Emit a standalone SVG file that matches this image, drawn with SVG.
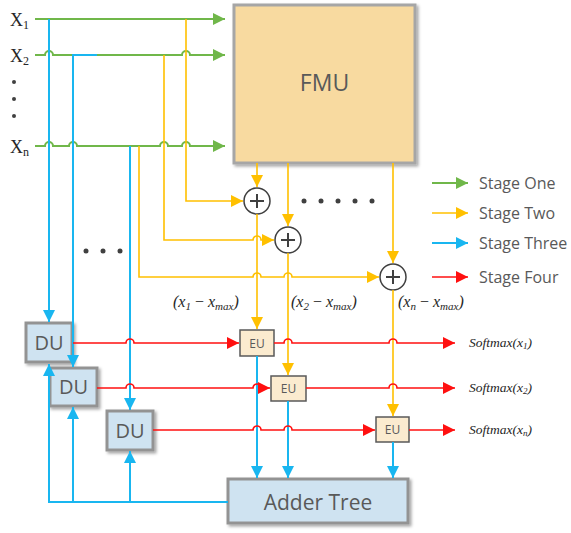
<svg xmlns="http://www.w3.org/2000/svg" width="571" height="533" viewBox="0 0 571 533">
<style>
.g{stroke:#70B74A;stroke-width:2;fill:none}
.y{stroke:#FFC000;stroke-width:1.6;fill:none}
.b{stroke:#19B6F0;stroke-width:2;fill:none}
.r{stroke:#FF1010;stroke-width:1.6;fill:none}
.lbl{font-family:"Open Sans","Noto Sans",sans-serif;fill:#595959}
.math{font-family:"Liberation Serif",serif;font-style:italic;fill:#262626}
.xl{font-family:"Liberation Serif",serif;fill:#262626}
.big{fill:#F8DAA0;stroke:#A6A6A6;stroke-width:3}
.du{fill:#CFE3F1;stroke:#939393;stroke-width:3}
.eu{fill:#FBEBCF;stroke:#595959;stroke-width:1.5}
.add{fill:#fff;stroke:#404040;stroke-width:1.5}
.plus{stroke:#404040;stroke-width:2}
.dot{fill:#404040}
</style>
<defs>
<filter id="sh" x="-10%" y="-10%" width="130%" height="130%">
<feDropShadow dx="2" dy="2" stdDeviation="1.5" flood-color="#000" flood-opacity="0.35"/>
</filter>
<marker id="ag" markerUnits="userSpaceOnUse" markerWidth="12" markerHeight="12" refX="12" refY="6" orient="auto"><path d="M0,0 L12,6 L0,12 z" fill="#70B74A"/></marker>
<marker id="ay" markerUnits="userSpaceOnUse" markerWidth="12" markerHeight="12" refX="12" refY="6" orient="auto"><path d="M0,0 L12,6 L0,12 z" fill="#FFC000"/></marker>
<marker id="ab" markerUnits="userSpaceOnUse" markerWidth="12" markerHeight="12" refX="12" refY="6" orient="auto"><path d="M0,0 L12,6 L0,12 z" fill="#19B6F0"/></marker>
<marker id="ar" markerUnits="userSpaceOnUse" markerWidth="12" markerHeight="12" refX="12" refY="6" orient="auto"><path d="M0,0 L12,6 L0,12 z" fill="#FF1010"/></marker>
</defs>

<g id="inputs">
<text class="xl" x="10" y="26" font-size="18">X<tspan font-size="12" dy="3">1</tspan></text>
<text class="xl" x="10" y="62" font-size="18">X<tspan font-size="12" dy="3">2</tspan></text>
<text class="xl" x="10" y="153" font-size="18">X<tspan font-size="12" dy="3">n</tspan></text>
<circle class="dot" cx="14" cy="82" r="2"/>
<circle class="dot" cx="14" cy="99" r="2"/>
<circle class="dot" cx="14" cy="116" r="2"/>
</g>

<g id="fmu">
<rect class="big" x="234" y="5" width="181" height="158" filter="url(#sh)"/>
<text class="lbl" x="324.5" y="91" font-size="23" text-anchor="middle">FMU</text>
</g>

<g id="adder1"><circle class="add" cx="257" cy="201" r="13"/><path class="plus" d="M250,201 H264 M257,194 V208"/></g>
<g id="adder2"><circle class="add" cx="288" cy="240" r="13"/><path class="plus" d="M281,240 H295 M288,233 V247"/></g>
<g id="adder3"><circle class="add" cx="393" cy="277" r="13"/><path class="plus" d="M386,277 H400 M393,270 V284"/></g>

<g id="du1"><rect class="du" x="26" y="323" width="46" height="39" filter="url(#sh)"/><text class="lbl" x="49" y="350" font-size="20" text-anchor="middle">DU</text></g>
<g id="du2"><rect class="du" x="50" y="368" width="47" height="38" filter="url(#sh)"/><text class="lbl" x="73.5" y="394" font-size="20" text-anchor="middle">DU</text></g>
<g id="du3"><rect class="du" x="107" y="411" width="46" height="39" filter="url(#sh)"/><text class="lbl" x="130" y="438" font-size="20" text-anchor="middle">DU</text></g>

<g id="eu1"><rect class="eu" x="240" y="330" width="34" height="26"/><text class="lbl" x="257" y="348" font-size="12" text-anchor="middle">EU</text></g>
<g id="eu2"><rect class="eu" x="271" y="376" width="35" height="25"/><text class="lbl" x="288.5" y="393" font-size="12" text-anchor="middle">EU</text></g>
<g id="eu3"><rect class="eu" x="376" y="417" width="33" height="25"/><text class="lbl" x="392.5" y="434" font-size="12" text-anchor="middle">EU</text></g>

<g id="adder-tree"><rect class="du" x="228" y="479" width="180" height="44" filter="url(#sh)"/><text class="lbl" x="318" y="510" font-size="21" text-anchor="middle">Adder Tree</text></g>

<g id="connectors">
<path class="g" d="M35,19 H225" marker-end="url(#ag)"/>
<path class="g" d="M35,55 H45 a4,4 0 0 1 8,0 H182 a4,4 0 0 1 8,0 H225" marker-end="url(#ag)"/>
<path class="g" d="M35,146 H45 a4,4 0 0 1 8,0 H69 a4,4 0 0 1 8,0 H160 a4,4 0 0 1 8,0 H182 a4,4 0 0 1 8,0 H225" marker-end="url(#ag)"/>
<path class="y" d="M186,19 V201 H243" marker-end="url(#ay)"/>
<path class="y" d="M164,55 V240 H253 a4,4 0 0 1 8,0 H274" marker-end="url(#ay)"/>
<path class="y" d="M139,146 V277 H253 a4,4 0 0 1 8,0 H284 a4,4 0 0 1 8,0 H379" marker-end="url(#ay)"/>
<path class="y" d="M257,163 V187" marker-end="url(#ay)"/>
<path class="y" d="M288,163 V226" marker-end="url(#ay)"/>
<path class="y" d="M393,163 V263" marker-end="url(#ay)"/>
<path class="y" d="M257,214 V329" marker-end="url(#ay)"/>
<path class="y" d="M288,253 V375" marker-end="url(#ay)"/>
<path class="y" d="M393,290 V416" marker-end="url(#ay)"/>
<path class="b" d="M49,19 V322" marker-end="url(#ab)"/>
<path class="b" d="M97,55 H73 V367" marker-end="url(#ab)"/>
<path class="b" d="M130,146 V410" marker-end="url(#ab)"/>
<path class="b" d="M228,502 H49 V364" marker-end="url(#ab)"/>
<path class="b" d="M73,502 V407" marker-end="url(#ab)"/>
<path class="b" d="M130,502 V451" marker-end="url(#ab)"/>
<path class="b" d="M257,356 V478" marker-end="url(#ab)"/>
<path class="b" d="M288,401 V478" marker-end="url(#ab)"/>
<path class="b" d="M393,442 V478" marker-end="url(#ab)"/>
<path class="r" d="M73,343 H126 a4,4 0 0 1 8,0 H239" marker-end="url(#ar)"/>
<path class="r" d="M274,343 H284 a4,4 0 0 1 8,0 H389 a4,4 0 0 1 8,0 H455" marker-end="url(#ar)"/>
<path class="r" d="M97,388 H126 a4,4 0 0 1 8,0 H253 a4,4 0 0 1 8,0 H270" marker-end="url(#ar)"/>
<path class="r" d="M306,388 H389 a4,4 0 0 1 8,0 H455" marker-end="url(#ar)"/>
<path class="r" d="M153,430 H253 a4,4 0 0 1 8,0 H284 a4,4 0 0 1 8,0 H375" marker-end="url(#ar)"/>
<path class="r" d="M409,430 H455" marker-end="url(#ar)"/>
</g>

<g id="labels">
<circle class="dot" cx="304" cy="201" r="2.5"/>
<circle class="dot" cx="321" cy="201" r="2.5"/>
<circle class="dot" cx="338" cy="201" r="2.5"/>
<circle class="dot" cx="355" cy="201" r="2.5"/>
<circle class="dot" cx="372" cy="201" r="2.5"/>
<circle class="dot" cx="86" cy="251" r="2.5"/>
<circle class="dot" cx="103" cy="251" r="2.5"/>
<circle class="dot" cx="120" cy="251" r="2.5"/>
<text class="math" x="173" y="307" font-size="16">(x<tspan font-size="11" dy="3">1</tspan><tspan dy="-3" font-style="normal"> − </tspan>x<tspan font-size="11" dy="3">max</tspan><tspan dy="-3">)</tspan></text>
<text class="math" x="291" y="307" font-size="16">(x<tspan font-size="11" dy="3">2</tspan><tspan dy="-3" font-style="normal"> − </tspan>x<tspan font-size="11" dy="3">max</tspan><tspan dy="-3">)</tspan></text>
<text class="math" x="398" y="307" font-size="16">(x<tspan font-size="11" dy="3">n</tspan><tspan dy="-3" font-style="normal"> − </tspan>x<tspan font-size="11" dy="3">max</tspan><tspan dy="-3">)</tspan></text>
<text class="math" x="469" y="347" font-size="13.5">Softmax(x<tspan font-size="9" dy="2">1</tspan><tspan dy="-2">)</tspan></text>
<text class="math" x="469" y="392" font-size="13.5">Softmax(x<tspan font-size="9" dy="2">2</tspan><tspan dy="-2">)</tspan></text>
<text class="math" x="469" y="434" font-size="13.5">Softmax(x<tspan font-size="9" dy="2">n</tspan><tspan dy="-2">)</tspan></text>
</g>

<g id="legend">
<path class="g" d="M432,183 H468" marker-end="url(#ag)"/>
<path class="y" d="M432,213 H468" marker-end="url(#ay)"/>
<path class="b" d="M432,243 H468" marker-end="url(#ab)"/>
<path class="r" d="M432,277 H468" marker-end="url(#ar)"/>
<text class="lbl" x="479" y="189" font-size="16">Stage One</text>
<text class="lbl" x="479" y="219" font-size="16">Stage Two</text>
<text class="lbl" x="479" y="249" font-size="16">Stage Three</text>
<text class="lbl" x="479" y="283" font-size="16">Stage Four</text>
</g>
</svg>
